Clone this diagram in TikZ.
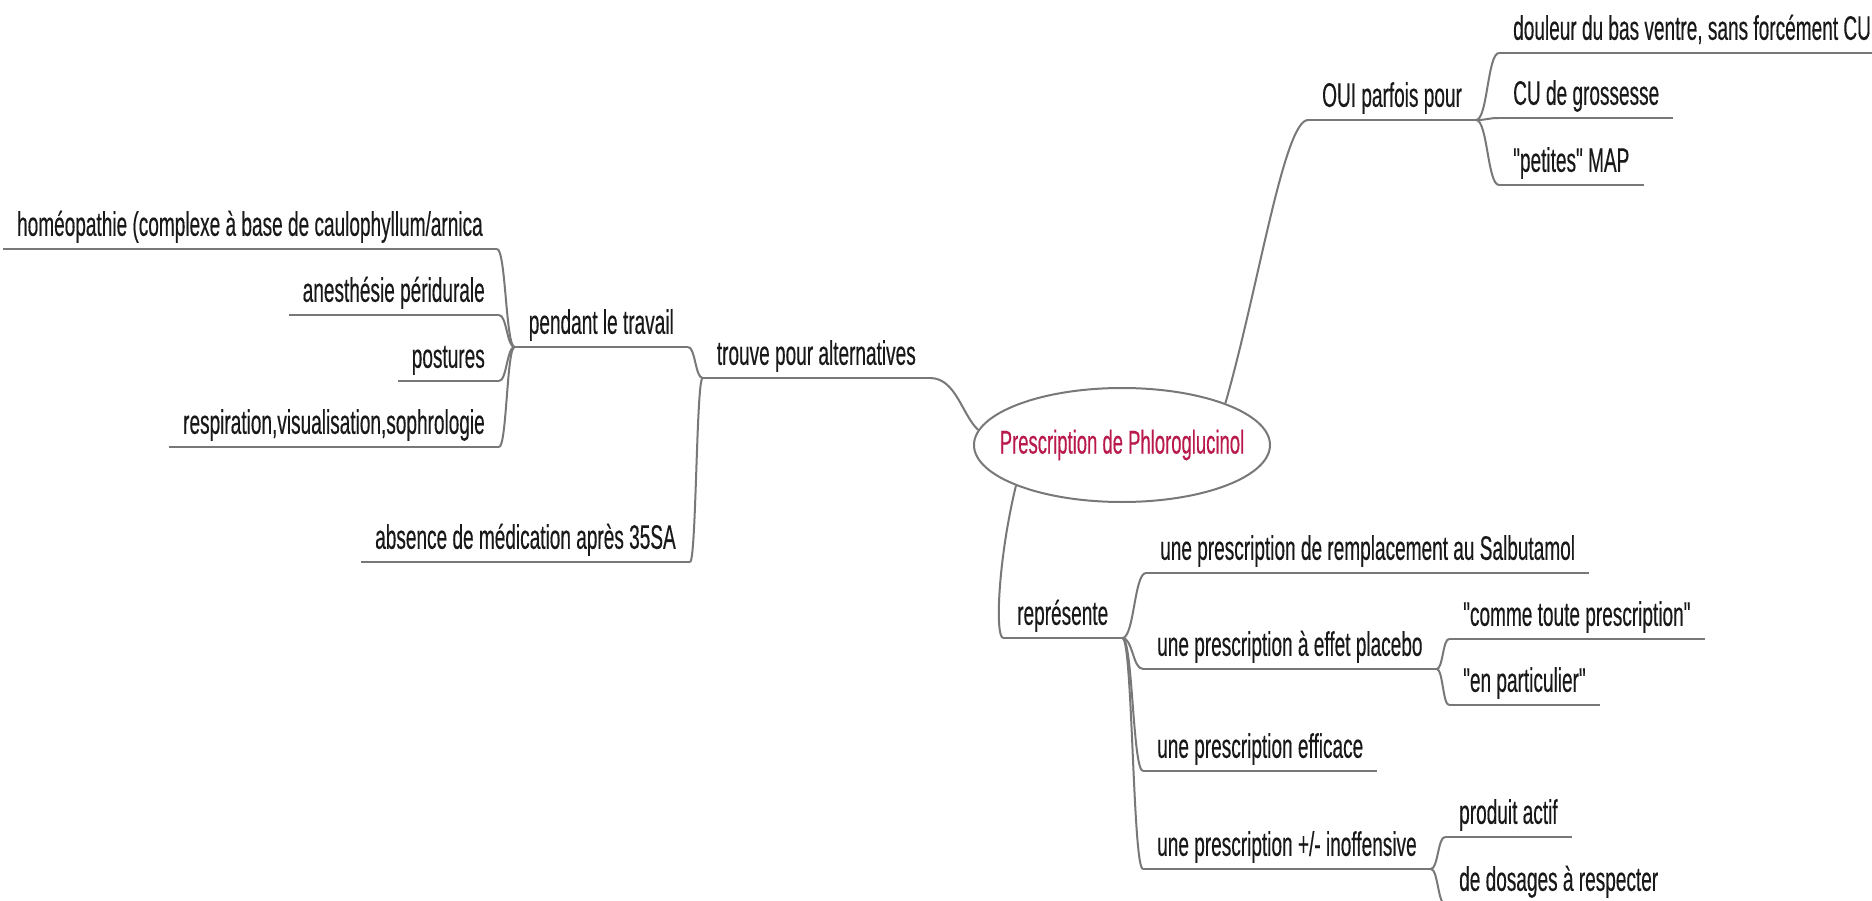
\documentclass[tikz,border=0pt]{standalone}
\usepackage{fontspec}
\setmainfont{Liberation Sans}[Ligatures=TeXOff,FakeStretch=0.56,FakeBold=0.3]
\usetikzlibrary{shapes.geometric,calc}
\definecolor{linkgray}{RGB}{120,120,120}
\definecolor{txt}{RGB}{25,25,25}
\definecolor{rootred}{RGB}{185,25,75}
\newcommand\mmlink[2]{\draw[link] let \p1=(#1), \p2=(#2) in (\p1) .. controls ({(\x1+\x2)/2},\y1) and ({(\x1+\x2)/2},\y2) .. (\p2);}
\newcommand\dq{\char34 }
\begin{document}
\begin{tikzpicture}[x=1pt,y=-1pt,
  mm/.style={inner xsep=14pt, inner ysep=6pt, text height=26pt, text depth=7pt, font=\fontsize{34}{40}\selectfont, text=txt},
  ul/.style={draw=linkgray, line width=2pt},
  link/.style={draw=linkgray, line width=2pt},
  rootnode/.style={ellipse, draw=linkgray, line width=2pt, fill=white, minimum width=296pt, minimum height=114pt, inner sep=0pt},
  roottext/.style={text=rootred, inner sep=0pt, font=\fontsize{33}{38}\selectfont}]
\clip (0,0) rectangle (1872,901);
\fill[white] (0,0) rectangle (1872,901);
% root
\node[rootnode] (root) at (1122,445) {};
\node[roottext] (rootlabel) at (root.center) {Prescription de Phloroglucinol};
% left side
\node[mm, anchor=south east] (trouve) at (930,378) {trouve pour alternatives};
\node[mm, anchor=south east] (pendant) at (688,347) {pendant le travail};
\node[mm, anchor=south east] (absence) at (690,562) {absence de médication après 35SA};
\node[mm, anchor=south east] (homeo) at (497,249) {homéopathie (complexe à base de caulophyllum/arnica};
\node[mm, anchor=south east] (anesth) at (499,315) {anesthésie péridurale};
\node[mm, anchor=south east] (postures) at (499,381) {postures};
\node[mm, anchor=south east] (respir) at (499,447) {respiration,visualisation,sophrologie};
% right side top
\node[mm, anchor=south west] (oui) at (1308,120) {OUI parfois pour};
\node[mm, anchor=south west] (douleur) at (1499,53) {douleur du bas ventre, sans forcément CU};
\node[mm, anchor=south west] (cu) at (1499,118) {CU de grossesse};
\node[mm, anchor=south west] (petites) at (1499,185) {\dq petites\dq\ MAP};
% right side bottom
\node[mm, anchor=south west] (repr) at (1003,638) {représente};
\node[mm, anchor=south west] (rempl) at (1146,573) {une prescription de remplacement au Salbutamol};
\node[mm, anchor=south west] (placebo) at (1143,669) {une prescription à effet placebo};
\node[mm, anchor=south west] (efficace) at (1143,771) {une prescription efficace};
\node[mm, anchor=south west] (inoff) at (1143,869) {une prescription +/- inoffensive};
\node[mm, anchor=south west] (comme) at (1449,639) {\dq comme toute prescription\dq};
\node[mm, anchor=south west] (partic) at (1449,705) {\dq en particulier\dq};
\node[mm, anchor=south west] (produit) at (1445,837) {produit actif};
\node[mm, anchor=south west] (dosages) at (1445,904) {de dosages à respecter};
% underlines
\foreach \n in {trouve,pendant,absence,homeo,anesth,postures,respir,oui,douleur,cu,petites,repr,rempl,placebo,efficace,inoff,comme,partic,produit,dosages}
  \draw[ul] (\n.south west) -- (\n.south east);
% links from root
\draw[link] (trouve.south east) .. controls (956,378) and (962,415) .. (root.174);
\draw[link] (root.22) .. controls (1258,290) and (1284,120) .. (oui.south west);
\draw[link] (root.201) .. controls (998,560) and (995,636) .. (repr.south west);
% left links
\mmlink{pendant.south east}{trouve.south west}
\mmlink{absence.south east}{trouve.south west}
\mmlink{homeo.south east}{pendant.south west}
\mmlink{anesth.south east}{pendant.south west}
\mmlink{postures.south east}{pendant.south west}
\mmlink{respir.south east}{pendant.south west}
% right links
\mmlink{oui.south east}{douleur.south west}
\mmlink{oui.south east}{cu.south west}
\mmlink{oui.south east}{petites.south west}
\mmlink{repr.south east}{rempl.south west}
\mmlink{repr.south east}{placebo.south west}
\mmlink{repr.south east}{efficace.south west}
\mmlink{repr.south east}{inoff.south west}
\mmlink{placebo.south east}{comme.south west}
\mmlink{placebo.south east}{partic.south west}
\mmlink{inoff.south east}{produit.south west}
\mmlink{inoff.south east}{dosages.south west}
\end{tikzpicture}
\end{document}
